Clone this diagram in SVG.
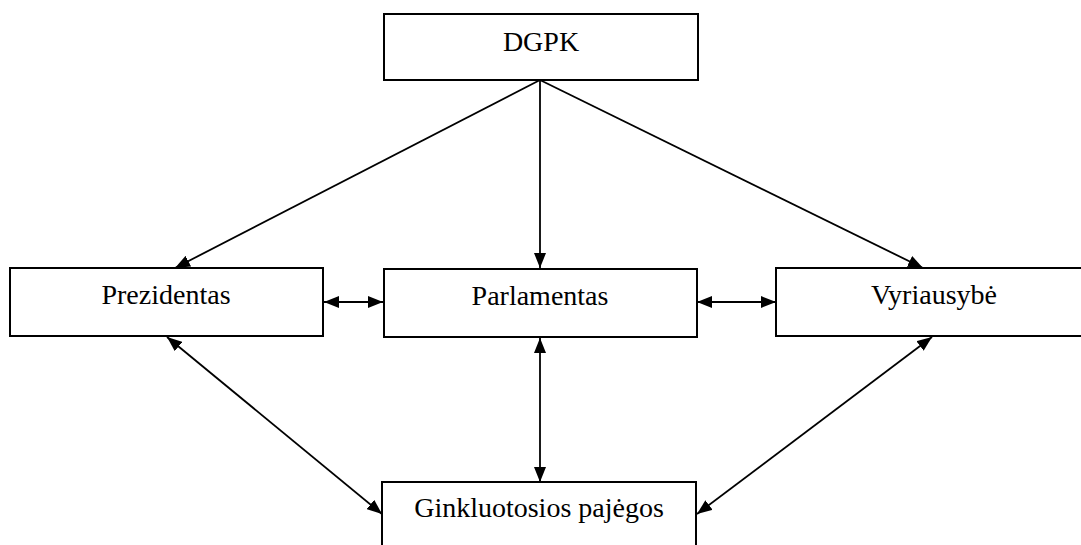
<svg xmlns="http://www.w3.org/2000/svg" width="1081" height="545" viewBox="0 0 1081 545">
<style>
.box{fill:#fff;stroke:#000;stroke-width:2}
.lbl{font-family:"Liberation Serif","Times New Roman",serif;font-size:28px;fill:#000;text-anchor:middle}
.con{stroke:#000;stroke-width:1.8;fill:none}
.one{marker-end:url(#ah)}
.two{marker-start:url(#ah);marker-end:url(#ah)}
</style>
<defs>
<marker id="ah" viewBox="0 0 15 12" refX="15" refY="6" markerWidth="15" markerHeight="12" markerUnits="userSpaceOnUse" orient="auto-start-reverse">
<path d="M0,0 L15,6 L0,12 Z" fill="#000"/>
</marker>
</defs>
<rect width="1081" height="545" fill="#fff"/>
<g id="connectors">
<line class="con one" x1="540" y1="80" x2="175" y2="268"/>
<line class="con one" x1="540" y1="80" x2="540" y2="268"/>
<line class="con one" x1="540" y1="80" x2="923" y2="268"/>
<line class="con two" x1="324" y1="302" x2="383" y2="302"/>
<line class="con two" x1="697" y1="302" x2="776" y2="302"/>
<line class="con two" x1="540" y1="338" x2="540" y2="482"/>
<line class="con two" x1="167" y1="337" x2="382" y2="514"/>
<line class="con two" x1="932" y1="337" x2="697" y2="514"/>
</g>
<g id="dgpk">
<rect class="box" x="384" y="14" width="314" height="66"/>
<text class="lbl" x="541" y="51">DGPK</text>
</g>
<g id="prezidentas">
<rect class="box" x="10" y="268" width="313" height="68"/>
<text class="lbl" x="166" y="304">Prezidentas</text>
</g>
<g id="parlamentas">
<rect class="box" x="384" y="269" width="313" height="68"/>
<text class="lbl" x="540" y="305">Parlamentas</text>
</g>
<g id="vyriausybe">
<rect class="box" x="776" y="268" width="320" height="68"/>
<text class="lbl" x="934" y="304">Vyriausybė</text>
</g>
<g id="ginkluotosios">
<rect class="box" x="382" y="482" width="314" height="80"/>
<text class="lbl" x="539" y="517">Ginkluotosios pajėgos</text>
</g>
</svg>
